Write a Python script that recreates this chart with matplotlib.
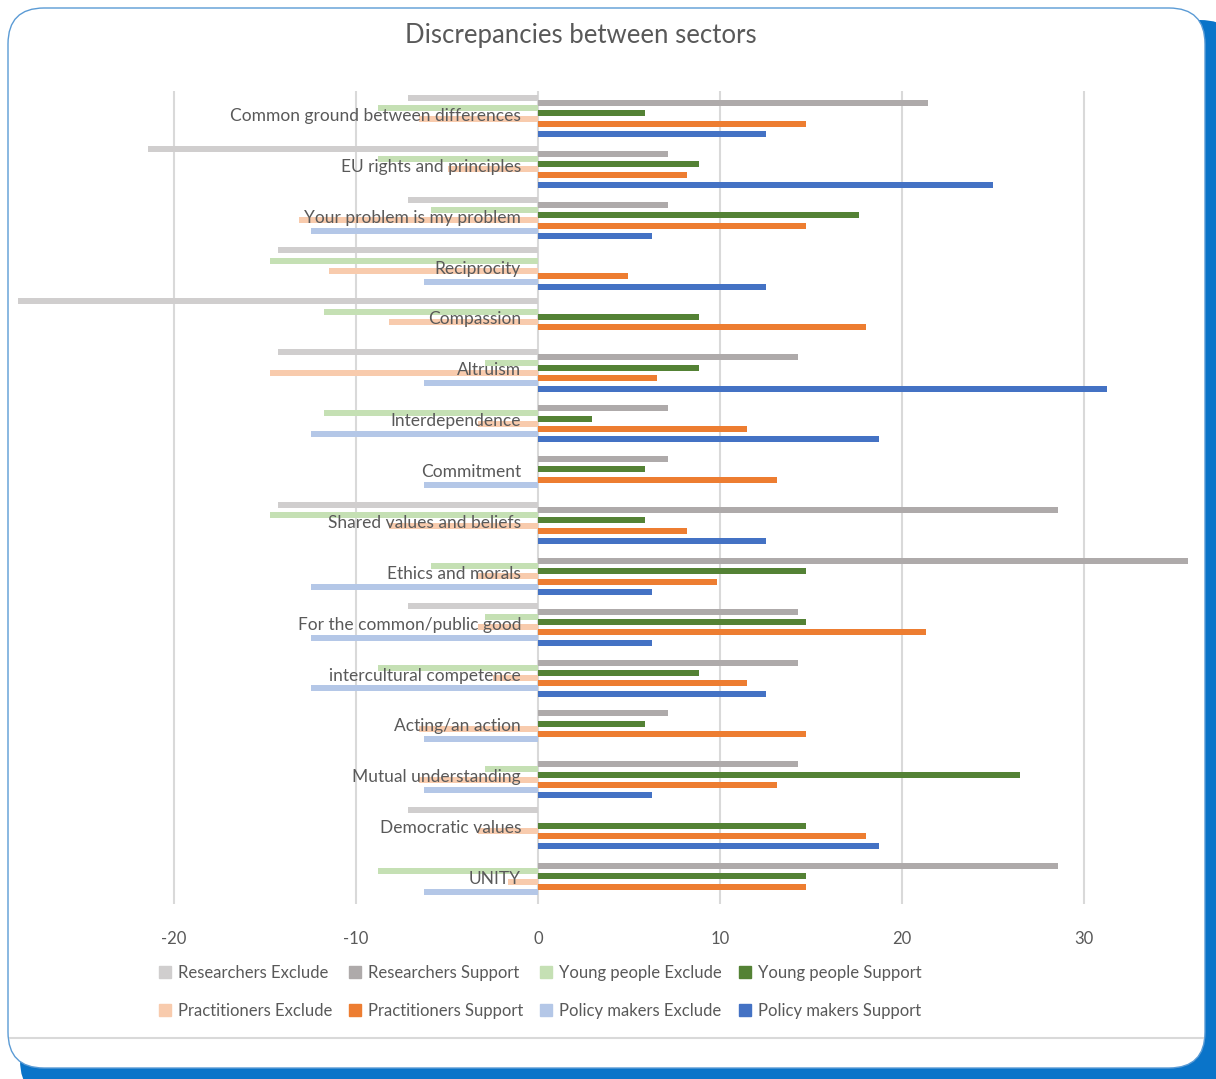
import numpy as np
import matplotlib.pyplot as plt
from matplotlib.patches import FancyBboxPatch, Patch

plt.rcParams['font.family'] = ['Lato', 'DejaVu Sans']
plt.rcParams['axes.unicode_minus'] = False

categories = ["Common ground between differences", "EU rights and principles",
              "Your problem is my problem", "Reciprocity", "Compassion", "Altruism",
              "Interdependence", "Commitment", "Shared values and beliefs",
              "Ethics and morals", "For the common/public good",
              "intercultural competence", "Acting/an action", "Mutual understanding",
              "Democratic values", "UNITY"]

researchers_exclude = [-7.14, -21.43, -7.14, -14.29, -28.57, -14.29, 0, 0, -14.29, 0, -7.14, 0, 0, 0, -7.14, 0]
researchers_support = [21.43, 7.14, 7.14, 0, 0, 14.29, 7.14, 7.14, 28.57, 35.71, 14.29, 14.29, 7.14, 14.29, 0, 28.57]
young_exclude = [-8.82, -8.82, -5.88, -14.71, -11.76, -2.94, -11.76, 0, -14.71, -5.88, -2.94, -8.82, 0, -2.94, 0, -8.82]
young_support = [5.88, 8.82, 17.65, 0, 8.82, 8.82, 2.94, 5.88, 5.88, 14.71, 14.71, 8.82, 5.88, 26.47, 14.71, 14.71]
pract_exclude = [-6.56, -4.92, -13.11, -11.48, -8.2, -14.75, -3.28, 0, -8.2, -3.28, -3.28, -2.5, -6.56, -6.56, -3.28, -1.64]
pract_support = [14.75, 8.2, 14.75, 4.92, 18.03, 6.56, 11.48, 13.11, 8.2, 9.84, 21.31, 11.48, 14.75, 13.11, 18.03, 14.75]
policy_exclude = [0, 0, -12.5, -6.25, 0, -6.25, -12.5, -6.25, 0, -12.5, -12.5, -12.5, -6.25, -6.25, 0, -6.25]
policy_support = [12.5, 25.0, 6.25, 12.5, 0, 31.25, 18.75, 0, 12.5, 6.25, 6.25, 12.5, 0, 6.25, 18.75, 0]

series = [
    ("Researchers Exclude", researchers_exclude, "#d0cece"),
    ("Researchers Support", researchers_support, "#aeaaaa"),
    ("Young people Exclude", young_exclude, "#c5e0b4"),
    ("Young people Support", young_support, "#548235"),
    ("Practitioners Exclude", pract_exclude, "#f8cbad"),
    ("Practitioners Support", pract_support, "#ed7d31"),
    ("Policy makers Exclude", policy_exclude, "#b4c7e7"),
    ("Policy makers Support", policy_support, "#4472c4"),
]

W, H = 1216, 1079
fig = plt.figure(figsize=(W / 100, H / 100), dpi=100)

# background frame
bg = fig.add_axes([0, 0, 1, 1])
bg.set_xlim(0, W)
bg.set_ylim(H, 0)
bg.axis('off')
bg.add_patch(FancyBboxPatch((60, 60), 1140, 1000,
                            boxstyle="round,pad=40,rounding_size=40",
                            facecolor="#0a74c9", edgecolor="none"))
bg.add_patch(FancyBboxPatch((40, 40), 1133, 996,
                            boxstyle="round,pad=32,rounding_size=36",
                            facecolor="white", edgecolor="#5b9bd5", lw=1))
bg.plot([10, 1203], [1038, 1038], color="#d9d9d9", lw=1.5)

text_color = "#595959"
ax = fig.add_axes([15.7 / W, (H - 904.4) / H, (1189.6 - 15.7) / W, (904.4 - 90.6) / H])
ax.set_facecolor('none')

y = np.arange(len(categories))
step = 0.102
for i, (name, vals, col) in enumerate(series):
    ax.barh(y - 0.357 + i * step, vals, height=0.118, color=col, label=name, zorder=3)

for yi, cat in zip(y, categories):
    ax.text(-0.93, yi, cat, ha='right', va='center', fontsize=12.5, color=text_color, zorder=5)

ax.set_xlim(-28.7, 35.8)
ax.set_ylim(len(categories) - 0.5, -0.5)
ax.set_xticks([-20, -10, 0, 10, 20, 30])
ax.set_yticks([])
ax.grid(axis='x', color="#d9d9d9", lw=1.5, zorder=0)
ax.tick_params(axis='x', length=0, pad=19, labelsize=12, labelcolor=text_color)
for s in ax.spines.values():
    s.set_visible(False)

fig.text(581 / W, 1 - 35 / H, "Discrepancies between sectors", ha='center', va='center',
         fontsize=18.5, color=text_color)

handles = [Patch(color=c, label=n) for n, v, c in series]
order = [0, 4, 1, 5, 2, 6, 3, 7]
fig.legend([handles[k] for k in order], [series[k][0] for k in order], ncol=4,
           loc='center', bbox_to_anchor=(540 / W, 1 - 992 / H), frameon=False,
           fontsize=12, labelcolor=text_color, handlelength=0.75, handleheight=0.75,
           handletextpad=0.4, columnspacing=1.0, labelspacing=1.3)

fig.savefig("out.png", dpi=100)
